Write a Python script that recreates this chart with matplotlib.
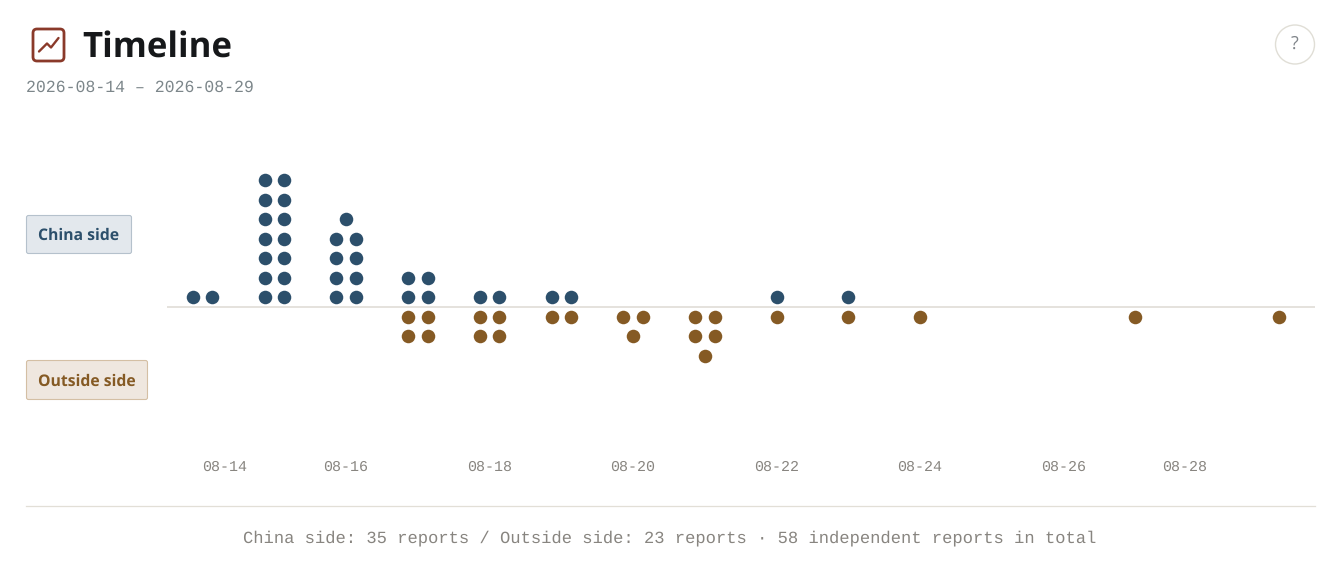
import numpy as np
import matplotlib
matplotlib.use("Agg")
import matplotlib.pyplot as plt
from matplotlib.patches import FancyBboxPatch, Circle

plt.rcParams["text.hinting"] = "no_hinting"

# days of august 2026
china_days = [14, 15, 16, 17, 18, 19, 22, 23]
china_counts = [2, 14, 9, 4, 2, 2, 1, 1]
outside_days = [17, 18, 19, 20, 21, 22, 23, 24, 27, 29]
outside_counts = [4, 4, 2, 3, 5, 1, 1, 1, 1, 1]
tick_days = [14, 16, 18, 20, 22, 24, 26, 28]
tick_labels = ["08-14", "08-16", "08-18", "08-20", "08-22", "08-24", "08-26", "08-28"]

W, H = 1343, 573
DAY_PX = 71.75
ROW_PX = 19.5
MONO = "Liberation Mono"
SANS = "Open Sans"

BLUE = "#2c4f6b"
BROWN = "#855a24"


def px_to_day(px):
    return 14 + (px - 202.5) / DAY_PX


def dot_positions(days, counts):
    # two dots per row from the baseline out, a last odd dot sits centred
    xs, rows = [], []
    half = (ROW_PX / 2) / DAY_PX
    for day, count in zip(days, counts):
        for i in range(count):
            row = i // 2
            if i == count - 1 and count % 2 == 1:
                xs.append(day)
            else:
                xs.append(day - half if i % 2 == 0 else day + half)
            rows.append(row + 0.5)
    return np.array(xs), np.array(rows)


fig = plt.figure(figsize=(W / 100, H / 100), dpi=100, facecolor="white")

# page furniture in pixel coordinates
bg = fig.add_axes([0, 0, 1, 1])
bg.set_xlim(0, W)
bg.set_ylim(H, 0)
bg.axis("off")

# icon
bg.add_patch(FancyBboxPatch((33, 29), 31, 32, boxstyle="round,pad=0,rounding_size=4",
                            fc="none", ec="#8a3a2a", lw=2))
bg.plot([39, 47, 51, 58.5], [51.5, 43.5, 47.5, 38], color="#8a3a2a", lw=1.7, solid_capstyle="round")

bg.text(82, 47.5, "Timeline", fontsize=25, fontweight="bold", family=SANS, color="#16181a", va="center")
bg.text(26, 87, "2026-08-14 – 2026-08-29", fontsize=11.9, family=MONO, color="#7c868a", va="center")

# help button
bg.add_patch(Circle((1295, 44.5), 19.5, fc="white", ec="#e0ded6", lw=1))
bg.text(1295, 44.5, "?", fontsize=13, family=SANS, color="#80858a", ha="center", va="center")

# side labels
bg.add_patch(FancyBboxPatch((26.5, 215.5), 105, 38, boxstyle="round,pad=0,rounding_size=2",
                            fc="#e3e8ed", ec="#b5c1cc", lw=0.8))
bg.text(78.5, 235.5, "China side", fontsize=11.3, fontweight="bold", family=SANS, color=BLUE,
        ha="center", va="center")
bg.add_patch(FancyBboxPatch((26.5, 360.5), 121, 39, boxstyle="round,pad=0,rounding_size=2",
                            fc="#efe7df", ec="#d4bfa4", lw=0.8))
bg.text(87, 381.5, "Outside side", fontsize=11.3, fontweight="bold", family=SANS, color=BROWN,
        ha="center", va="center")

# footer
bg.plot([26, 1315], [506, 506], color="#e2dfd7", lw=0.9)
bg.text(670, 538, "China side: 35 reports / Outside side: 23 reports · 58 independent reports in total",
        fontsize=12.37, family=MONO, color="#888580", ha="center", va="center")

# dot chart
left, right, top, bottom = 167, 1315, 140, 455
ax = fig.add_axes([left / W, 1 - bottom / H, (right - left) / W, (bottom - top) / H])
ax.patch.set_alpha(0)
ax.set_xlim(px_to_day(left), px_to_day(right))
ax.set_ylim((307 - bottom) / ROW_PX, (307 - top) / ROW_PX)
for side in ax.spines.values():
    side.set_visible(False)
ax.set_yticks([])

ax.axhline(0, color="#e0ddd7", lw=1.2, zorder=1)

x, rows = dot_positions(china_days, china_counts)
ax.scatter(x, rows, s=95, color=BLUE, linewidths=0, zorder=2)
x, rows = dot_positions(outside_days, outside_counts)
ax.scatter(x, -rows, s=95, color=BROWN, linewidths=0, zorder=2)

# first and last labels are pushed in from their real spot
tick_shift = {14: 22.5 / DAY_PX, 28: -22 / DAY_PX}
ax.set_xticks([d + tick_shift.get(d, 0) for d in tick_days])
ax.set_xticklabels(tick_labels, family=MONO, fontsize=10.8, color="#888580")
ax.tick_params(axis="x", length=0, pad=3.3)

fig.savefig("out.png", dpi=100)
